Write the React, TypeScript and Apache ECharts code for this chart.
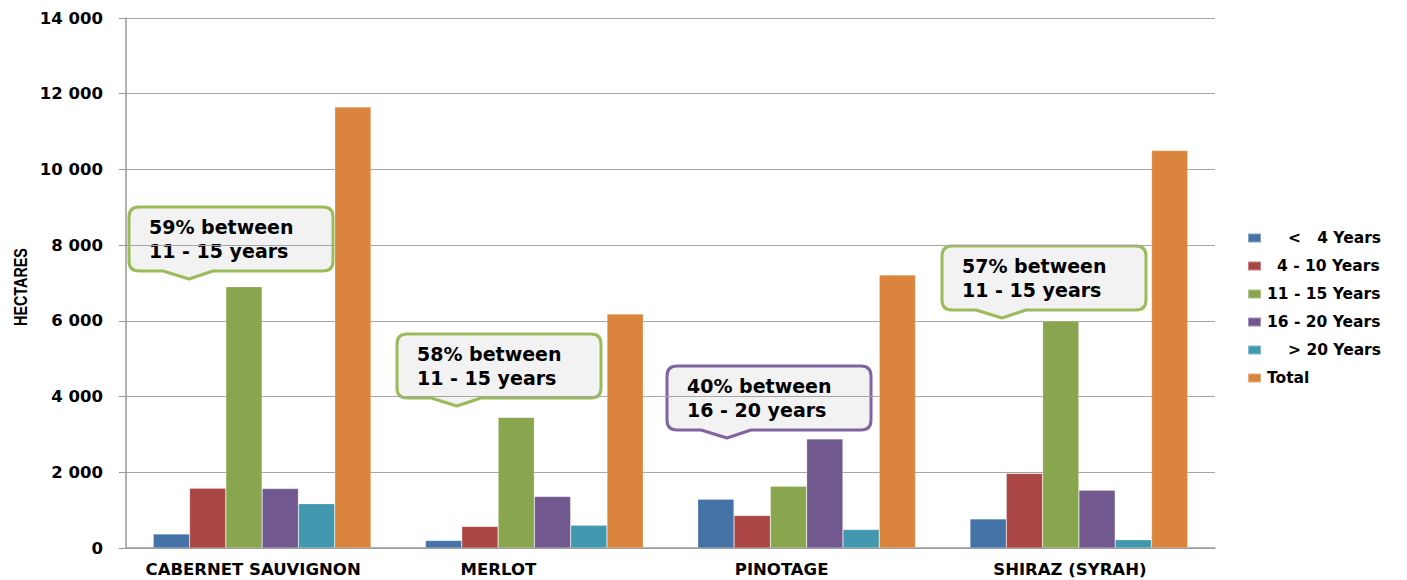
import React, { useEffect, useRef } from "react";
import * as echarts from "echarts";

// Vineyard area (hectares) by vine age, per cultivar
const categories = ["CABERNET SAUVIGNON", "MERLOT", "PINOTAGE", "SHIRAZ (SYRAH)"];
const seriesNames = ["<   4 Years", "4 - 10 Years", "11 - 15 Years", "16 - 20 Years", "> 20 Years", "Total"];
const under4 = [370, 200, 1290, 770];
const from4to10 = [1580, 570, 860, 1970];
const from11to15 = [6900, 3450, 1630, 6000];
const from16to20 = [1570, 1360, 2880, 1530];
const over20 = [1170, 600, 490, 220];
const totals = [11650, 6180, 7210, 10500];
const yTicks = [0, 2000, 4000, 6000, 8000, 10000, 12000, 14000];
const yAxisTitle = "HECTARES";

const colors = ["#4572A7", "#AA4643", "#89A54E", "#71588F", "#4198AF", "#DB843D"];

// Callout notes: text, border colour, box top-left
const notes = [
  { text: "59% between\n11 - 15 years", color: "#9BBB59", x: 129, y: 207 },
  { text: "58% between\n11 - 15 years", color: "#9BBB59", x: 397, y: 334 },
  { text: "40% between\n16 - 20 years", color: "#8064A2", x: 667, y: 366 },
  { text: "57% between\n11 - 15 years", color: "#9BBB59", x: 942, y: 246 },
];

// Rounded box with a downward pointer
const BW = 204;
const BH = 64;
const R = 10;
const calloutPath =
  `M ${R} 0 H ${BW - R} Q ${BW} 0 ${BW} ${R} V ${BH - R} Q ${BW} ${BH} ${BW - R} ${BH} ` +
  `H 84 L 60 ${BH + 8} L 34 ${BH} H ${R} Q 0 ${BH} 0 ${BH - R} V ${R} Q 0 0 ${R} 0 Z`;
echarts.graphic.registerShape("callout", echarts.graphic.extendPath(calloutPath, {}));

// Horizontal nudge of each category label
const labelShift = [-9, -36, -25, -9];
// Indent of each legend label
const legendIndent = [21, 10, 0, 0, 21, 0];

const FONT = "'DejaVu Sans', Verdana, sans-serif";

export default function App() {
  const ref = useRef<HTMLDivElement>(null);

  useEffect(() => {
    if (!ref.current) return;
    const chart = echarts.init(ref.current, null, { renderer: "svg" });
    const values = [under4, from4to10, from11to15, from16to20, over20, totals];

    const rich: Record<string, any> = {};
    categories.forEach((_, i) => {
      const s = labelShift[i];
      rich["c" + i] = {
        fontFamily: FONT,
        fontWeight: "bold",
        fontSize: 16.5,
        color: "#000",
        padding: s < 0 ? [0, -2 * s, 0, 0] : [0, 0, 0, 2 * s],
      };
    });

    const legendRich: Record<string, any> = {};
    seriesNames.forEach((_, i) => {
      legendRich["l" + i] = {
        fontFamily: FONT,
        fontWeight: "bold",
        fontSize: 15.5,
        lineHeight: 16,
        color: "#000",
        padding: [0, 0, 0, legendIndent[i]],
      };
    });

    chart.setOption({
      animation: false,
      backgroundColor: "#fff",
      grid: { left: 126, right: 192, top: 18, bottom: 32, containLabel: false },
      legend: {
        orient: "vertical",
        left: 1247,
        top: 230,
        padding: 0,
        icon: "rect",
        itemWidth: 13,
        itemHeight: 9,
        itemGap: 12,
        data: seriesNames,
        formatter: (name: string) => `{l${seriesNames.indexOf(name)}|${name}}`,
        textStyle: { rich: legendRich, padding: [0, 0, 0, 1], lineHeight: 16 },
      },
      xAxis: {
        type: "category",
        data: categories,
        axisLine: { lineStyle: { color: "#999", width: 1.5 } },
        axisTick: { show: false },
        axisLabel: {
          margin: 13,
          interval: 0,
          formatter: (v: string) => `{c${categories.indexOf(v)}|${v}}`,
          rich,
        },
      },
      yAxis: {
        type: "value",
        min: yTicks[0],
        max: yTicks[yTicks.length - 1],
        interval: yTicks[1] - yTicks[0],
        axisLine: { show: true, lineStyle: { color: "#999", width: 1.5 } },
        axisTick: { show: true, length: 7, lineStyle: { color: "#999" } },
        splitLine: { lineStyle: { color: "#a6a6a6", width: 1.2 } },
        axisLabel: {
          margin: 23,
          fontFamily: FONT,
          fontWeight: "bold",
          fontSize: 16.5,
          color: "#000",
          formatter: (v: number) => String(v).replace(/\B(?=(\d{3})+(?!\d))/g, " "),
        },
      },
      series: seriesNames.map((name, i) => ({
        name,
        type: "bar",
        data: values[i],
        barGap: "0%",
        barCategoryGap: "20%",
        itemStyle: { color: colors[i], borderColor: "rgba(255,255,255,0.35)", borderWidth: 0.6 },
      })),
      graphic: [
        // Axis title, set in a condensed bold face
        {
          type: "text",
          x: 21,
          y: 287,
          rotation: Math.PI / 2,
          scaleX: 0.82,
          style: {
            text: yAxisTitle,
            fontFamily: "'Liberation Sans', Arial, sans-serif",
            fontWeight: "bold",
            fontSize: 17.5,
            fill: "#000",
            align: "center",
            verticalAlign: "middle",
          },
        },
        ...notes.map((n) => ({
          type: "group",
          x: n.x,
          y: n.y,
          z: 100,
          children: [
            {
              type: "callout",
              x: 0,
              y: 0,
              style: { fill: "#f2f2f2", stroke: n.color, lineWidth: 3, lineJoin: "round" },
            },
            {
              type: "text",
              x: 20,
              y: 8,
              style: {
                text: n.text,
                fontFamily: FONT,
                fontWeight: "bold",
                fontSize: 19,
                lineHeight: 24,
                fill: "#000",
              },
            },
          ],
        })),
      ],
    });

    return () => chart.dispose();
  }, []);

  return (
    <div
      ref={ref}
      style={{ position: "fixed", left: 0, top: 0, width: 1407, height: 580 }}
    />
  );
}
